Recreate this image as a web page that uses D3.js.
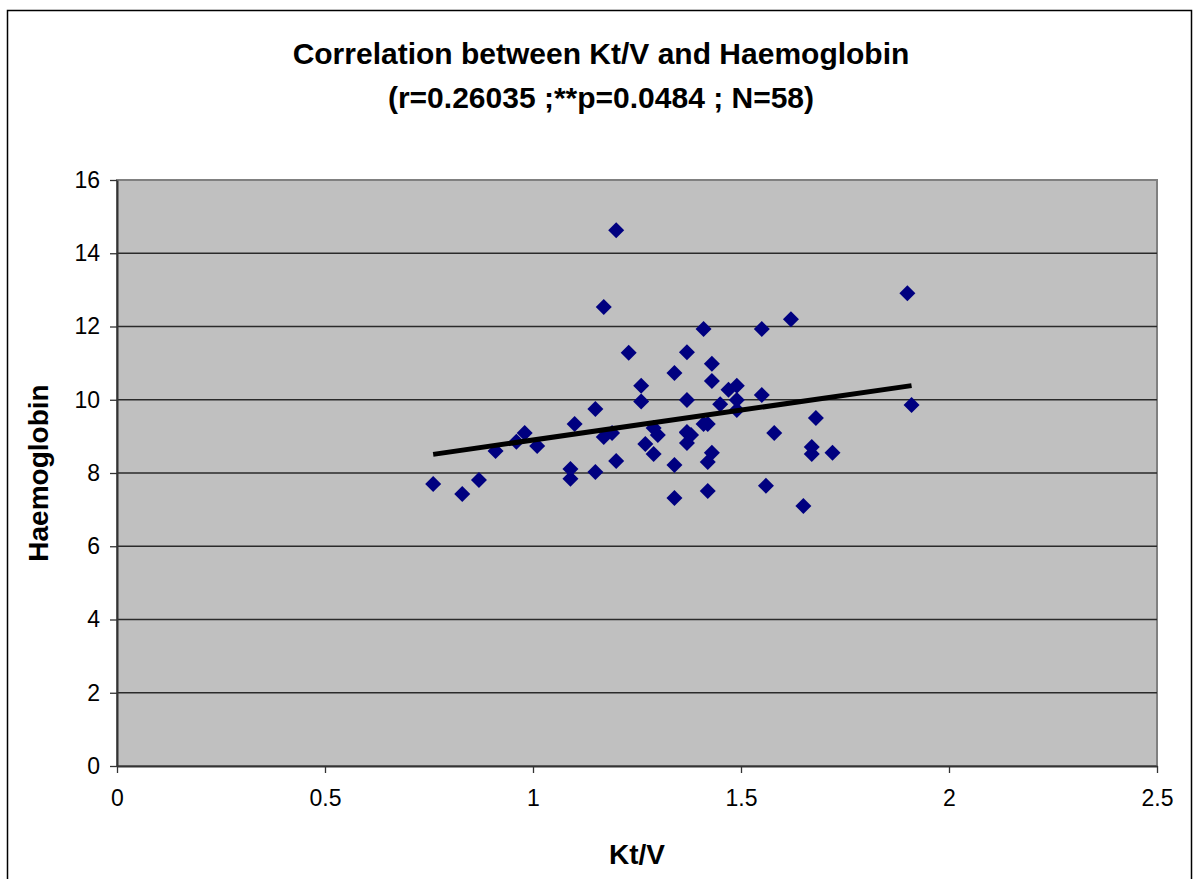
<!DOCTYPE html>
<html>
<head>
<meta charset="utf-8">
<script src="https://cdn.jsdelivr.net/npm/d3@7/dist/d3.min.js"></script>
<style>
  body { margin: 0; background: #fff; }
  svg text { font-family: "Liberation Sans", Arial, sans-serif; }
</style>
</head>
<body>
<div id="chart"></div>
<script>
// Kt/V values
const ktv = [
  0.76, 0.83, 0.87, 0.91, 0.96, 0.98, 1.01, 1.09, 1.09, 1.10,
  1.15, 1.15, 1.17, 1.17, 1.19, 1.20, 1.20, 1.23, 1.26, 1.26,
  1.27, 1.29, 1.30, 1.29, 1.34, 1.34, 1.34, 1.37, 1.37, 1.37,
  1.38, 1.37, 1.41, 1.41, 1.42, 1.43, 1.42, 1.42, 1.43, 1.43,
  1.45, 1.47, 1.49, 1.49, 1.49, 1.55, 1.55, 1.56, 1.58, 1.62,
  1.65, 1.67, 1.67, 1.68, 1.72, 1.90, 1.91, 1.37
];
// Haemoglobin values, same order
const hb = [
  7.70, 7.43, 7.81, 8.60, 8.85, 9.09, 8.74, 8.11, 7.84, 9.34,
  9.75, 8.03, 12.53, 8.98, 9.09, 14.63, 8.33, 11.28, 10.38, 9.95,
  8.79, 9.23, 9.04, 8.52, 10.73, 8.22, 7.32, 11.30, 9.99, 9.12,
  9.04, 8.82, 11.93, 9.34, 9.34, 8.55, 8.30, 7.51, 10.98, 10.51,
  9.88, 10.27, 10.38, 9.99, 9.72, 11.93, 10.13, 7.65, 9.09, 12.20,
  7.10, 8.71, 8.52, 9.50, 8.55, 12.91, 9.86, 9.10
];
const xTicks = [0, 0.5, 1, 1.5, 2, 2.5];
const yTicks = [0, 2, 4, 6, 8, 10, 12, 14, 16];
const titleLines = ["Correlation between Kt/V and Haemoglobin", "(r=0.26035 ;**p=0.0484 ; N=58)"];

const width = 1198, height = 879;
const margin = {top: 180, right: 41, bottom: 113, left: 117};
const plotW = width - margin.left - margin.right;
const plotH = height - margin.top - margin.bottom;

const svg = d3.select("#chart").append("svg")
  .attr("width", width)
  .attr("height", height);

// outer chart border
svg.append("rect")
  .attr("x", 7.5).attr("y", 10.5)
  .attr("width", 1184).attr("height", 880)
  .attr("fill", "none").attr("stroke", "#000").attr("stroke-width", 1.5);

// title
svg.append("text")
  .attr("x", 601).attr("y", 64)
  .attr("text-anchor", "middle")
  .attr("font-size", 30).attr("font-weight", "bold")
  .text(titleLines[0]);
svg.append("text")
  .attr("x", 601).attr("y", 108)
  .attr("text-anchor", "middle")
  .attr("font-size", 30).attr("font-weight", "bold")
  .text(titleLines[1]);

const x = d3.scaleLinear().domain([0, 2.5]).range([0, plotW]);
const y = d3.scaleLinear().domain([0, 16]).range([plotH, 0]);

const g = svg.append("g").attr("transform", `translate(${margin.left},${margin.top})`);

// plot area
g.append("rect")
  .attr("width", plotW).attr("height", plotH)
  .attr("fill", "#c0c0c0")
  .attr("stroke", "#808080").attr("stroke-width", 2);

// gridlines
g.selectAll(".grid")
  .data(yTicks.filter(d => d > 0 && d < 16))
  .enter().append("line")
  .attr("class", "grid")
  .attr("x1", 0).attr("x2", plotW)
  .attr("y1", d => y(d)).attr("y2", d => y(d))
  .attr("stroke", "#2a2a2a").attr("stroke-width", 1.3);

// axes
const yAxis = g.append("g")
  .call(d3.axisLeft(y).tickValues(yTicks).tickSize(7).tickSizeOuter(0).tickPadding(10));
const xAxis = g.append("g")
  .attr("transform", `translate(0,${plotH})`)
  .call(d3.axisBottom(x).tickValues(xTicks).tickFormat(d3.format("")).tickSize(7).tickSizeOuter(0).tickPadding(17));
[yAxis, xAxis].forEach(a => {
  a.select(".domain").attr("stroke", "#333").attr("stroke-width", 2);
  a.selectAll(".tick line").attr("stroke", "#333").attr("stroke-width", 1.3);
  a.selectAll(".tick text").attr("font-size", 23).attr("fill", "#000")
    .attr("font-family", "'Liberation Sans', Arial, sans-serif");
});

// axis titles
svg.append("text")
  .attr("x", margin.left + x(1.25)).attr("y", 864)
  .attr("text-anchor", "middle")
  .attr("font-size", 28).attr("font-weight", "bold")
  .text("Kt/V");
svg.append("text")
  .attr("transform", `translate(48,${margin.top + plotH / 2}) rotate(-90)`)
  .attr("text-anchor", "middle")
  .attr("font-size", 28).attr("font-weight", "bold")
  .text("Haemoglobin");

// points
const points = ktv.map((v, i) => ({x: v, y: hb[i]}));
const diamond = d3.symbol().type(d3.symbolSquare).size(128);
g.selectAll(".pt")
  .data(points)
  .enter().append("path")
  .attr("class", "pt")
  .attr("d", diamond)
  .attr("transform", d => `translate(${x(d.x)},${y(d.y)}) rotate(45)`)
  .attr("fill", "#000080");

// linear trend line (least squares)
const mx = d3.mean(ktv), my = d3.mean(hb);
const sxy = d3.sum(ktv, (v, i) => (v - mx) * (hb[i] - my));
const sxx = d3.sum(ktv, v => (v - mx) * (v - mx));
const slope = sxy / sxx, icpt = my - slope * mx;
const [x0, x1] = d3.extent(ktv);
g.append("line")
  .attr("x1", x(x0)).attr("y1", y(icpt + slope * x0))
  .attr("x2", x(x1)).attr("y2", y(icpt + slope * x1))
  .attr("stroke", "#000").attr("stroke-width", 5);
</script>
</body>
</html>
